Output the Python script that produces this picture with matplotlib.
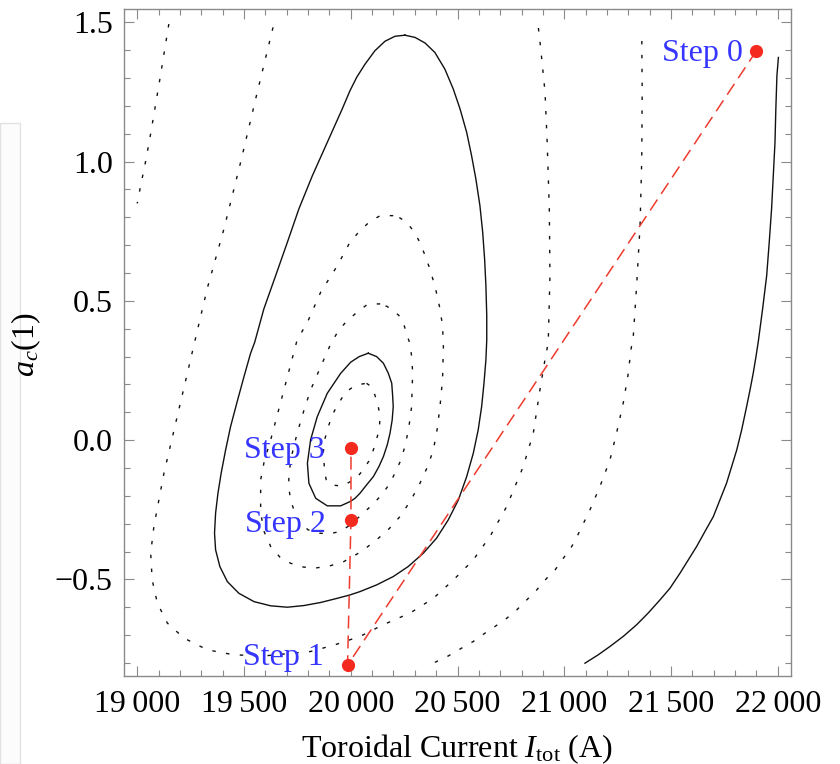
import matplotlib
matplotlib.use("Agg")
import matplotlib.pyplot as plt
from matplotlib.ticker import MultipleLocator, FuncFormatter
from matplotlib.patches import Rectangle

plt.rcParams['font.family'] = ['Liberation Serif', 'DejaVu Serif']
plt.rcParams['mathtext.fontset'] = 'custom'
plt.rcParams['mathtext.rm'] = 'Liberation Serif'
plt.rcParams['mathtext.it'] = 'Liberation Serif:italic'

# ---- contour lines (toroidal current, a_c(1)) ----
cA_x = [19148, 19106, 19063, 19039, 19013, 19000]
cA_y = [1.494, 1.296, 1.101, 1.000, 0.902, 0.850]

cB_x = [19636, 19559, 19484, 19406, 19328, 19274, 19187, 19125, 19078, 19063,
        19070, 19094, 19141, 19219, 19328, 19453, 19593, 19812, 19926, 20043,
        20152, 20278, 20387, 20481, 20574, 20652, 20730, 20808, 20855, 20886,
        20910, 20925, 20933, 20930, 20920, 20910, 20890, 20876]
cB_y = [1.482, 1.239, 0.997, 0.758, 0.545, 0.369, 0.084, -0.119, -0.310, -0.406,
        -0.502, -0.585, -0.657, -0.711, -0.753, -0.771, -0.775, -0.759, -0.735, -0.705,
        -0.663, -0.621, -0.568, -0.502, -0.430, -0.346, -0.239, -0.095, 0.025, 0.180,
        0.290, 0.350, 0.590, 0.830, 1.069, 1.249, 1.404, 1.500]

cC_x = [20254, 20207, 20160, 20113, 20067, 20028, 19996, 19960, 19890, 19820,
        19757, 19703, 19648, 19593, 19550, 19531, 19500, 19468, 19437, 19414,
        19393, 19378, 19367, 19362, 19367, 19387, 19422, 19476, 19547, 19625,
        19703, 19781, 19859, 19937, 19996, 20043, 20121, 20199, 20269, 20340,
        20402, 20457, 20504, 20543, 20574, 20597, 20613, 20624, 20633, 20637,
        20637, 20633, 20627, 20618, 20605, 20586, 20566, 20543, 20512, 20480,
        20441, 20394, 20348, 20301, 20254]
cC_y = [1.454, 1.450, 1.432, 1.398, 1.350, 1.303, 1.254, 1.189, 1.069, 0.949,
        0.830, 0.710, 0.590, 0.471, 0.351, 0.312, 0.228, 0.138, 0.048, -0.035,
        -0.119, -0.191, -0.262, -0.334, -0.394, -0.454, -0.508, -0.550, -0.580, -0.595,
        -0.600, -0.594, -0.583, -0.568, -0.556, -0.544, -0.520, -0.490, -0.454, -0.406,
        -0.352, -0.286, -0.215, -0.131, -0.047, 0.037, 0.120, 0.204, 0.288, 0.360,
        0.447, 0.555, 0.650, 0.746, 0.842, 0.938, 1.021, 1.105, 1.189, 1.261,
        1.332, 1.392, 1.426, 1.446, 1.454]

cD_x = [20199, 20138, 20090, 20043, 19996, 19937, 19859, 19797, 19749, 19687,
        19625, 19595, 19578, 19578, 19595, 19625, 19668, 19718, 19770, 19828,
        19900, 19968, 20050, 20121, 20180, 20230, 20280, 20324, 20360, 20387,
        20405, 20418, 20430, 20434, 20430, 20418, 20397, 20371, 20347, 20324,
        20295, 20262, 20230, 20199]
cD_y = [0.806, 0.806, 0.785, 0.752, 0.710, 0.626, 0.531, 0.423, 0.360, 0.180,
        0.001, -0.075, -0.143, -0.262, -0.330, -0.382, -0.420, -0.442, -0.455, -0.460,
        -0.452, -0.436, -0.400, -0.358, -0.318, -0.275, -0.218, -0.155, -0.095, -0.035,
        0.040, 0.120, 0.220, 0.335, 0.410, 0.471, 0.545, 0.614, 0.665, 0.710,
        0.750, 0.782, 0.798, 0.806]

cE_x = [20138, 20105, 20074, 20020, 19976, 19940, 19906, 19860, 19812, 19780,
        19749, 19725, 19710, 19710, 19718, 19738, 19765, 19800, 19843, 19900,
        19953, 19996, 20059, 20100, 20137, 20170, 20199, 20230, 20254, 20272,
        20285, 20290, 20286, 20278, 20262, 20246, 20225, 20199, 20170, 20138]
cE_y = [0.489, 0.489, 0.485, 0.453, 0.423, 0.390, 0.345, 0.265, 0.180, 0.105,
        0.025, -0.050, -0.119, -0.170, -0.215, -0.260, -0.298, -0.322, -0.334, -0.336,
        -0.328, -0.305, -0.262, -0.233, -0.203, -0.170, -0.131, -0.080, -0.023, 0.045,
        0.120, 0.240, 0.295, 0.345, 0.380, 0.423, 0.448, 0.465, 0.480, 0.489]

cF_x = [20074, 20100, 20113, 20128, 20137, 20135, 20129, 20106, 20085, 20059,
        20035, 20012, 19961, 19906, 19885, 19879, 19871, 19878, 19895, 19912,
        19934, 19975, 20025, 20074]
cF_y = [0.204, 0.190, 0.162, 0.125, 0.084, 0.055, 0.025, -0.035, -0.075, -0.107,
        -0.128, -0.143, -0.165, -0.161, -0.142, -0.119, -0.047, 0.002, 0.048, 0.088,
        0.120, 0.172, 0.198, 0.204]

cG_x = [20082, 20121, 20153, 20176, 20192, 20196, 20199, 20194, 20184, 20171,
        20153, 20132, 20106, 20074, 20043, 20020, 19996, 19953, 19890, 19836,
        19804, 19797, 19812, 19843, 19890, 19953, 20000, 20040, 20082]
cG_y = [0.312, 0.300, 0.276, 0.240, 0.204, 0.162, 0.120, 0.072, 0.025, -0.017,
        -0.059, -0.095, -0.131, -0.161, -0.191, -0.209, -0.221, -0.236, -0.236, -0.209,
        -0.155, -0.083, 0.001, 0.084, 0.168, 0.240, 0.280, 0.300, 0.312]

cH_x = [20394, 20457, 20519, 20574, 20629, 20676, 20730, 20777, 20824, 20871,
        20918, 20957, 20996, 21035, 21062, 21120, 21167, 21214, 21245, 21276,
        21300, 21312, 21323, 21339, 21355, 21363, 21365, 21363]
cH_y = [-0.798, -0.775, -0.747, -0.723, -0.693, -0.669, -0.640, -0.610, -0.574, -0.538,
        -0.496, -0.466, -0.424, -0.382, -0.343, -0.251, -0.167, -0.071, 0.025, 0.132,
        0.240, 0.324, 0.369, 0.555, 0.770, 1.009, 1.249, 1.464]

cJ_x = [21097, 21159, 21214, 21276, 21339, 21393, 21448, 21495, 21542, 21581,
        21620, 21659, 21698, 21729, 21760, 21784, 21808, 21831, 21854, 21870,
        21885, 21898, 21909, 21929, 21948, 21960, 21971, 21979, 21987, 21991,
        21996, 22003]
cJ_y = [-0.801, -0.771, -0.741, -0.705, -0.663, -0.621, -0.574, -0.532, -0.478, -0.430,
        -0.382, -0.328, -0.275, -0.215, -0.155, -0.095, -0.035, 0.037, 0.120, 0.180,
        0.240, 0.300, 0.355, 0.471, 0.590, 0.710, 0.830, 0.949, 1.069, 1.189,
        1.308, 1.374]

solid_curves = [(cC_x, cC_y), (cG_x, cG_y), (cJ_x, cJ_y)]
dotted_curves = [(cA_x, cA_y), (cB_x, cB_y), (cD_x, cD_y), (cE_x, cE_y),
                 (cF_x, cF_y), (cH_x, cH_y)]

# ---- optimisation steps ----
step_x = [21900, 19985, 20001, 20001]
step_y = [1.398, -0.808, -0.287, -0.028]
step_labels = ['Step 0', 'Step 1', 'Step 2', 'Step 3']
label_offsets = [(-10, -7.7), (-17.3, 0.0), (-18.0, -8.4), (-18.7, -7.2)]

x_ticks = [19000, 19500, 20000, 20500, 21000, 21500, 22000]
y_ticks = [-0.5, 0.0, 0.5, 1.0, 1.5]

fig = plt.figure(figsize=(8.4, 7.64), dpi=100)
# faint screenshot artefact on the left edge (drawn beneath everything)
fig.patches.append(Rectangle((0, 0), 20 / 840, (764 - 123) / 764, transform=fig.transFigure,
                             facecolor='#fcfcfc', edgecolor='#e2e2e2', lw=1.0, zorder=-5))

ax = fig.add_axes([124 / 840, 1 - 676 / 764, 667 / 840, 667 / 764])
ax.patch.set_alpha(0.0)

for xs, ys in solid_curves:
    ax.plot(xs, ys, color='#111111', lw=1.0, solid_joinstyle='round')
for xs, ys in dotted_curves:
    ax.plot(xs, ys, color='#111111', lw=1.0, linestyle=(0, (2.5, 7.5)))

ax.plot(step_x, step_y, color='#ee3b2e', lw=1.1, linestyle=(0, (8.5, 4.5)), zorder=3)
ax.plot(step_x, step_y, linestyle='none', marker='o', ms=9.5, color='#f52a1f',
        markeredgewidth=0, zorder=4)
for sx, sy, lab, off in zip(step_x, step_y, step_labels, label_offsets):
    ax.annotate(lab, (sx, sy), xytext=off, textcoords='offset points',
                ha='right', va='baseline', fontsize=23, color='#3535ff', zorder=5)

ax.set_xlim(18938, 22062)
ax.set_ylim(-0.847, 1.548)

ax.set_xticks(x_ticks)
ax.set_yticks(y_ticks)
ax.xaxis.set_minor_locator(MultipleLocator(100))
ax.yaxis.set_minor_locator(MultipleLocator(0.1))
ax.xaxis.set_major_formatter(FuncFormatter(
    lambda v, p: f"{int(v) // 1000}\u2009{int(v) % 1000:03d}"))
ax.yaxis.set_major_formatter(FuncFormatter(
    lambda v, p: f"{v:.1f}".replace('-', '\u2212')))

gray = '#8a8a8a'
for s in ax.spines.values():
    s.set_color(gray)
    s.set_linewidth(1.0)
ax.tick_params(which='both', direction='in', top=True, right=True, color=gray,
               width=0.8, labelsize=23)
ax.tick_params(which='major', length=7)
ax.tick_params(which='minor', length=4)
ax.tick_params(axis='x', which='major', pad=10)
ax.tick_params(axis='y', which='major', pad=8)

ax.set_xlabel(r'Toroidal Current $I_{\mathrm{tot}}$ (A)', fontsize=23)
ax.set_ylabel(r'$a_c$(1)', fontsize=23)
ax.xaxis.set_label_coords(0.5, -0.084)
ax.yaxis.set_label_coords(-0.1214, 0.496)

fig.savefig('out.png', dpi=100)
